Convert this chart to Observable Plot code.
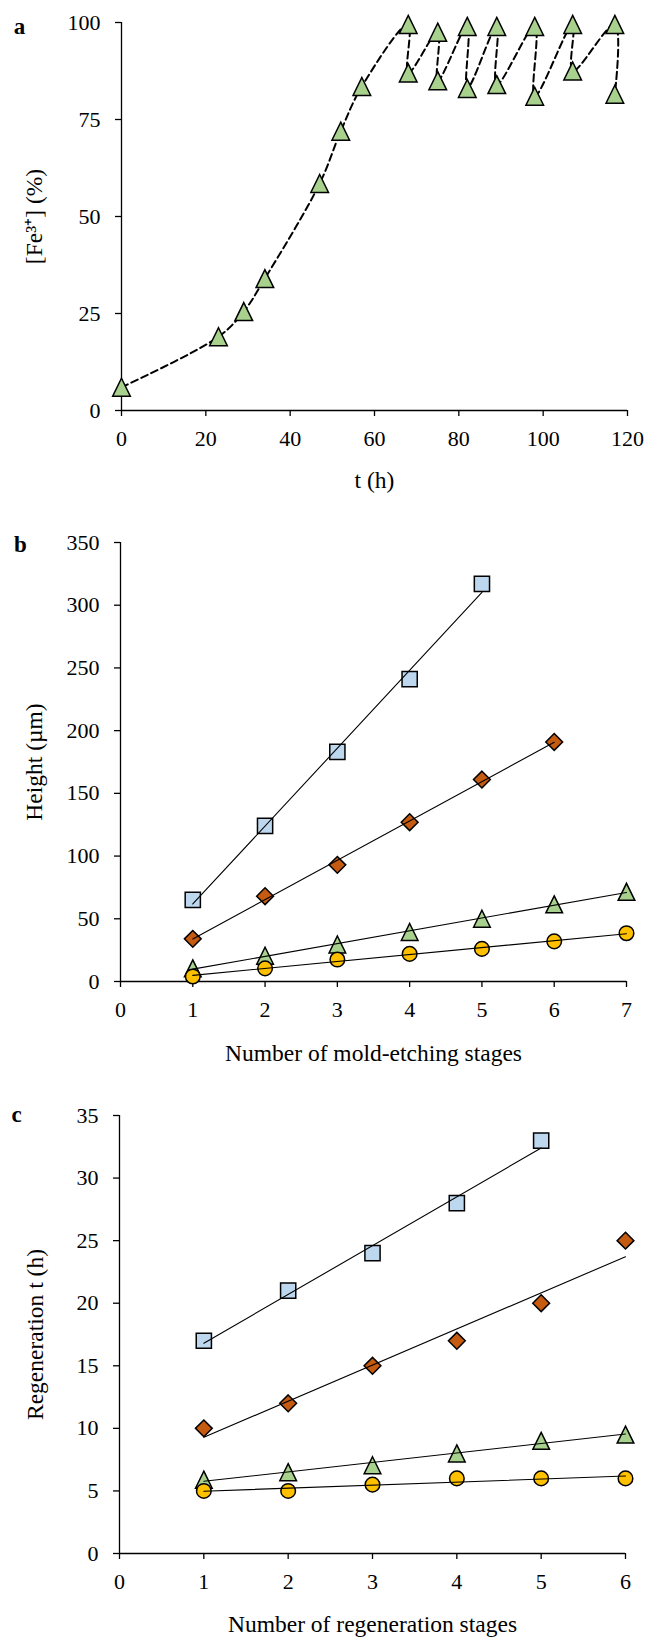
<!DOCTYPE html>
<html><head><meta charset="utf-8">
<script src="https://cdn.jsdelivr.net/npm/d3@7"></script>
<script src="https://cdn.jsdelivr.net/npm/@observablehq/plot@0.6"></script>
<style>
body{margin:0;background:#fff;}
#chart svg{display:block;}
#chart svg text{font-family:'Liberation Serif','Times New Roman',serif;}
</style>
</head><body><div id="chart"></div>
<script>
// ---------- Panel a data ----------
const tHours = [0, 23, 29, 34, 47, 52, 57, 68, 68, 75, 75, 82, 82, 89, 89, 98, 98, 107, 107, 117, 117];
const fe3Percent = [6, 19, 25.5, 34, 58.5, 72, 83.5, 99.5, 87, 97.5, 85, 99, 83, 99, 84, 99, 81, 99.5, 87.5, 99.5, 81.5];
const ticksA_x = [0, 20, 40, 60, 80, 100, 120];
const ticksA_y = [0, 25, 50, 75, 100];

// ---------- Panel b data ----------
const stagesB = [1, 2, 3, 4, 5, 6, 7];
const heightSquares = [65, 124, 183, 241, 317];
const heightDiamonds = [34, 68, 93, 127, 161, 191];
const heightTriangles = [10.5, 20.5, 29.5, 39.5, 50, 61.5, 71.5];
const heightCircles = [4, 10.5, 17.5, 22, 26, 32, 38.5];
const ticksB_x = [0, 1, 2, 3, 4, 5, 6, 7];
const ticksB_y = [0, 50, 100, 150, 200, 250, 300, 350];

// ---------- Panel c data ----------
const stagesC = [1, 2, 3, 4, 5, 6];
const regenSquares = [17, 21, 24, 28, 33];
const regenDiamonds = [10, 12, 15, 17, 20, 25];
const regenTriangles = [5.9, 6.5, 7.05, 8, 9, 9.5];
const regenCircles = [5, 5, 5.5, 6, 6, 6];
const ticksC_x = [0, 1, 2, 3, 4, 5, 6];
const ticksC_y = [0, 5, 10, 15, 20, 25, 30, 35];

// ---------- styling ----------
const FILL_SQUARE = "#bdd7ee";
const FILL_DIAMOND = "#c55a11";
const FILL_TRIANGLE = "#a9d18e";
const FILL_CIRCLE = "#ffc000";
const FONT = "'Liberation Serif', 'Times New Roman', serif";

const squareSym = {draw(c, s) { const r = Math.sqrt(s / Math.PI); c.moveTo(-r, -r); c.lineTo(r, -r); c.lineTo(r, r); c.lineTo(-r, r); c.closePath(); }};
const diamondSym = {draw(c, s) { const r = Math.sqrt(s / Math.PI); c.moveTo(0, -r); c.lineTo(r, 0); c.lineTo(0, r); c.lineTo(-r, 0); c.closePath(); }};
const triangleSym = {draw(c, s) { const r = Math.sqrt(s / Math.PI); c.moveTo(0, -r); c.lineTo(r * 0.98, r); c.lineTo(-r * 0.98, r); c.closePath(); }};

const zipXY = (xs, ys) => ys.map((y, i) => ({x: xs[i], y}));

function seriesMarks(xs, ys, sym, fill, r, trend) {
  const data = zipXY(xs, ys);
  const marks = [];
  marks.push(Plot.dot(data, {x: "x", y: "y", symbol: sym, r, fill, stroke: "black", strokeWidth: 1.5}));
  if (trend) marks.push(Plot.linearRegressionY(data, {x: "x", y: "y", ci: 0, stroke: "black", strokeWidth: 1.1}));
  return marks;
}

function panel(o) {
  return Plot.plot({
    width: 648, height: o.height,
    marginTop: o.mt, marginBottom: o.mb, marginLeft: o.ml, marginRight: o.mr,
    x: {domain: o.xDomain},
    y: {domain: o.yDomain},
    style: `font-family: ${FONT}; font-size: 22px; background: white; color: black; overflow: visible;`,
    marks: [
      Plot.ruleY([o.yDomain[0]], {stroke: "black", strokeWidth: 1.3}),
      Plot.ruleX([o.xDomain[0]], {stroke: "black", strokeWidth: 1.3}),
      Plot.axisX(o.xTicks, {tickSize: 6, tickPadding: 14, label: null, strokeWidth: 1.3, fontSize: 22}),
      Plot.axisY(o.yTicks, {tickSize: 6, tickPadding: 15, label: null, strokeWidth: 1.3, fontSize: 22}),
      ...o.marks,
      Plot.text([o.xLabel], {text: d => d, frameAnchor: "bottom", dy: o.xLabelDy, lineAnchor: "middle", fontSize: 23.5}),
      Plot.text([o.yLabel], {text: d => d, frameAnchor: "left", rotate: -90, dx: o.yLabelDx, lineAnchor: "middle", textAnchor: "middle", fontSize: 23.5}),
      Plot.text([o.letter], {text: d => d, frameAnchor: "top-left", dx: o.letterDx, dy: o.letterDy, textAnchor: "middle", lineAnchor: "bottom", fontWeight: "bold", fontSize: 23})
    ]
  });
}

const dataA = zipXY(tHours, fe3Percent);
const plotA = panel({
  height: 500, mt: 22, mb: 90, ml: 121, mr: 21,
  xDomain: [0, 120], yDomain: [0, 100], xTicks: ticksA_x, yTicks: ticksA_y,
  xLabel: "t (h)", yLabel: "[Fe³⁺] (%)", letter: "a",
  xLabelDy: 70, yLabelDx: -87, letterDx: -102, letterDy: 11,
  marks: [
    Plot.line(dataA, {x: "x", y: "y", curve: "catmull-rom", stroke: "black", strokeWidth: 2, strokeDasharray: "7,4"}),
    Plot.dot(dataA, {x: "x", y: "y", symbol: triangleSym, r: 9, fill: FILL_TRIANGLE, stroke: "black", strokeWidth: 1.5})
  ]
});

const plotB = panel({
  height: 575, mt: 42, mb: 94, ml: 120, mr: 22,
  xDomain: [0, 7], yDomain: [0, 350], xTicks: ticksB_x, yTicks: ticksB_y,
  xLabel: "Number of mold-etching stages", yLabel: "Height (µm)", letter: "b",
  xLabelDy: 72, yLabelDx: -86, letterDx: -100, letterDy: 9,
  marks: [
    ...seriesMarks(stagesB, heightSquares, squareSym, FILL_SQUARE, 7.6, true),
    ...seriesMarks(stagesB, heightDiamonds, diamondSym, FILL_DIAMOND, 8.4, true),
    ...seriesMarks(stagesB, heightTriangles, triangleSym, FILL_TRIANGLE, 8.5, true),
    ...seriesMarks(stagesB, heightCircles, "circle", FILL_CIRCLE, 7.3, true)
  ]
});

const plotC = panel({
  height: 562, mt: 40, mb: 84, ml: 119, mr: 23,
  xDomain: [0, 6], yDomain: [0, 35], xTicks: ticksC_x, yTicks: ticksC_y,
  xLabel: "Number of regeneration stages", yLabel: "Regeneration t (h)", letter: "c",
  xLabelDy: 71, yLabelDx: -84, letterDx: -103, letterDy: 6,
  marks: [
    ...seriesMarks(stagesC, regenSquares, squareSym, FILL_SQUARE, 7.6, true),
    ...seriesMarks(stagesC, regenDiamonds, diamondSym, FILL_DIAMOND, 8.4, true),
    ...seriesMarks(stagesC, regenTriangles, triangleSym, FILL_TRIANGLE, 8.5, true),
    ...seriesMarks(stagesC, regenCircles, "circle", FILL_CIRCLE, 7.3, true)
  ]
});

const root = document.getElementById("chart");
root.append(plotA, plotB, plotC);
</script>
</body></html>
